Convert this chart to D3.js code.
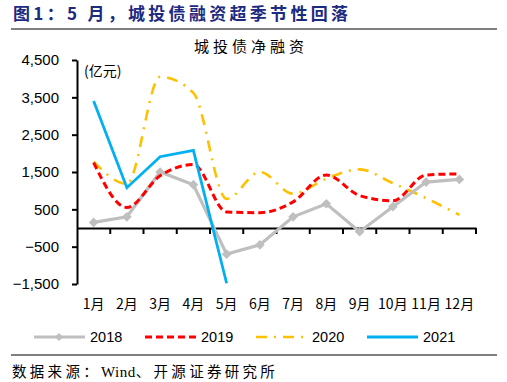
<!DOCTYPE html>
<html><head><meta charset="utf-8">
<script src="https://cdn.jsdelivr.net/npm/d3@7"></script>
<style>body{margin:0;background:#fff}svg{display:block}</style>
</head><body>
<svg id="c" width="507" height="382"></svg>
<script>
const months = ["1月","2月","3月","4月","5月","6月","7月","8月","9月","10月","11月","12月"];
const yTicks = [-1500,-500,500,1500,2500,3500,4500];
const s2018 = [150,300,1500,1160,-700,-450,300,650,-100,570,1230,1300];
const s2019 = [1750,550,1400,1700,430,410,700,1420,870,730,1420,1450];
const s2020 = [1780,1180,4050,3620,780,1500,920,1320,1570,1200,800,350];
const s2021 = [3400,1080,1910,2080,-1480];
const seriesNames = ["2018","2019","2020","2021"];

const svg = d3.select("#c");
const cjk = "'Noto Sans CJK SC', sans-serif";
const lat = "'Liberation Sans', Arial, sans-serif";

// header
svg.append("text").attr("x",13).attr("y",20).attr("font-family",cjk).attr("font-weight","bold")
  .attr("font-size",17).attr("letter-spacing",3.3).attr("fill","#1c2a80").text("图1：5 月，城投债融资超季节性回落");
svg.append("line").attr("x1",11).attr("x2",497).attr("y1",29).attr("y2",29).attr("stroke","#000").attr("stroke-width",1);
svg.append("text").attr("x",194).attr("y",52).attr("font-family",cjk)
  .attr("font-size",15).attr("letter-spacing",4).attr("fill","#000").text("城投债净融资");

const x = d3.scaleBand().domain(months).range([77,476]);
const y = d3.scaleLinear().domain([-1500,4500]).range([284,60]);

// y axis
const ya = svg.append("g").attr("transform","translate(77,0)")
  .call(d3.axisLeft(y).tickValues(yTicks).tickSize(5).tickSizeOuter(0).tickPadding(13).tickFormat(d3.format(",")));
ya.select(".domain").attr("stroke","#000").attr("stroke-width",2);
ya.selectAll(".tick line").attr("stroke","#000").attr("stroke-width",2);
ya.selectAll(".tick text").attr("font-family",lat).attr("font-size",15).attr("fill","#000");

// x axis at zero
const xa = svg.append("g").attr("transform",`translate(0,${y(0)})`)
  .call(d3.axisBottom(x).tickSize(0).tickFormat(""));
xa.select(".domain").attr("stroke","#000").attr("stroke-width",2);
const bounds = months.map((m)=>x(m)).concat([x(months[11])+x.bandwidth()]).slice(1);
svg.append("g").selectAll("line").data(bounds).join("line")
  .attr("x1",d=>d).attr("x2",d=>d).attr("y1",y(0)).attr("y2",y(0)+6)
  .attr("stroke","#000").attr("stroke-width",2);
// x labels
svg.append("g").selectAll("text").data(months).join("text")
  .attr("x",d=>x(d)+x.bandwidth()/2).attr("y",309).attr("text-anchor","middle")
  .attr("font-family",cjk).attr("font-size",14).attr("fill","#000").text(d=>d);

svg.append("text").attr("x",84).attr("y",76).attr("font-family",cjk).attr("font-size",14)
  .attr("fill","#000").text("(亿元)");

const cx = (i)=>x(months[i])+x.bandwidth()/2;
const lineStraight = d3.line().x((d,i)=>cx(i)).y(d=>y(d));
const lineSmooth = d3.line().x((d,i)=>cx(i)).y(d=>y(d)).curve(d3.curveMonotoneX);

const styles = {
  "2018":{stroke:"#bfbfbf",w:3.2,dash:null},
  "2019":{stroke:"#ff0000",w:3,dash:"7,4"},
  "2020":{stroke:"#ffc000",w:2.6,dash:"11,7,2,7"},
  "2021":{stroke:"#00b0f0",w:2.8,dash:null}
};

const g = svg.append("g");
g.append("path").datum(s2020).attr("d",lineSmooth).attr("fill","none")
  .attr("stroke",styles["2020"].stroke).attr("stroke-width",styles["2020"].w).attr("stroke-dasharray",styles["2020"].dash);
g.append("path").datum(s2018).attr("d",lineStraight).attr("fill","none")
  .attr("stroke",styles["2018"].stroke).attr("stroke-width",styles["2018"].w);
g.selectAll("path.dm").data(s2018).join("path").attr("class","dm")
  .attr("transform",(d,i)=>`translate(${cx(i)},${y(d)})`)
  .attr("d",d3.symbol(d3.symbolDiamond2,60)).attr("fill","#bfbfbf");
g.append("path").datum(s2019).attr("d",lineSmooth).attr("fill","none")
  .attr("stroke",styles["2019"].stroke).attr("stroke-width",styles["2019"].w).attr("stroke-dasharray",styles["2019"].dash);
g.append("path").datum(s2021).attr("d",lineStraight).attr("fill","none")
  .attr("stroke",styles["2021"].stroke).attr("stroke-width",styles["2021"].w);

// legend
const legX = [34,145,256,367];
const lg = svg.append("g");
seriesNames.forEach((n,i)=>{
  const st = styles[n];
  lg.append("line").attr("x1",legX[i]).attr("x2",legX[i]+51).attr("y1",337).attr("y2",337)
    .attr("stroke",st.stroke).attr("stroke-width",st.w).attr("stroke-dasharray",st.dash);
  if(n==="2018") lg.append("path").attr("transform",`translate(${legX[i]+25},337)`)
    .attr("d",d3.symbol(d3.symbolDiamond2,40)).attr("fill","#bfbfbf");
  lg.append("text").attr("x",legX[i]+56).attr("y",342).attr("font-family",lat).attr("font-size",14.5)
    .attr("fill","#000").text(n);
});

svg.append("line").attr("x1",11).attr("x2",497).attr("y1",355).attr("y2",355).attr("stroke","#000").attr("stroke-width",1);
const src = svg.append("text").attr("x",12).attr("y",377).attr("font-family",cjk).attr("font-size",14.5)
  .attr("letter-spacing",3.3).attr("fill","#000");
src.append("tspan").text("数据来源：");
src.append("tspan").attr("font-family","'Liberation Serif', serif").attr("letter-spacing",0.5).attr("font-size",15).text("Wind");
src.append("tspan").text("、开源证券研究所");
</script>
</body></html>
